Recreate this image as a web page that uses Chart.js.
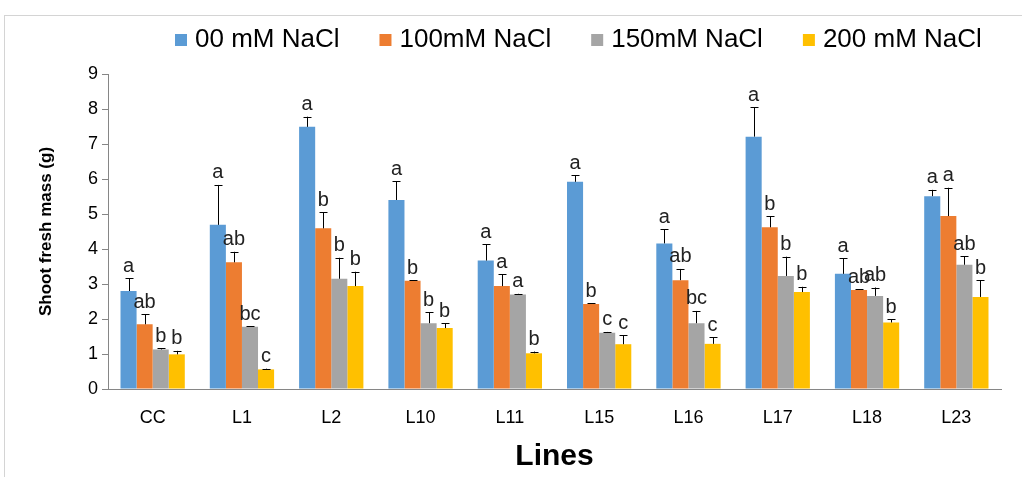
<!DOCTYPE html>
<html>
<head>
<meta charset="utf-8">
<script src="https://cdn.jsdelivr.net/npm/chart.js@4"></script>
<style>
body { margin: 0; background: #fff; }
#wrap { position: relative; width: 1022px; height: 477px; overflow: hidden; }
#frame { position: absolute; left: 4px; top: 15px; width: 1040px; height: 520px; border: 1px solid #d4d4d4; }
canvas { position: absolute; left: 0; top: 0; }
</style>
</head>
<body>
<div id="wrap"><div id="frame"></div><canvas id="chart" width="1022" height="477"></canvas></div>
<script>
var lines = ["CC", "L1", "L2", "L10", "L11", "L15", "L16", "L17", "L18", "L23"];
var seriesNames = ["00 mM NaCl", "100mM NaCl", "150mM NaCl", "200 mM NaCl"];
var colors = ["#5B9BD5", "#ED7D31", "#A5A5A5", "#FFC000"];

// mean shoot fresh mass (g)
var nacl0   = [2.80, 4.69, 7.49, 5.40, 3.67, 5.92, 4.16, 7.21, 3.29, 5.51];
var nacl100 = [1.85, 3.62, 4.59, 3.09, 2.94, 2.43, 3.11, 4.62, 2.83, 4.94];
var nacl150 = [1.13, 1.78, 3.15, 1.88, 2.70, 1.61, 1.88, 3.23, 2.66, 3.55];
var nacl200 = [0.99, 0.56, 2.94, 1.74, 1.02, 1.28, 1.29, 2.77, 1.90, 2.63];

// error bar (upper) lengths
var err0   = [0.36, 1.14, 0.29, 0.54, 0.47, 0.19, 0.40, 0.84, 0.44, 0.18];
var err100 = [0.28, 0.30, 0.46, 0.02, 0.34, 0.02, 0.32, 0.32, 0.02, 0.81];
var err150 = [0.03, 0.02, 0.60, 0.31, 0.02, 0.02, 0.35, 0.55, 0.24, 0.25];
var err200 = [0.10, 0.02, 0.41, 0.14, 0.05, 0.25, 0.19, 0.15, 0.09, 0.48];

// significance letters
var let0   = ["a", "a", "a", "a", "a", "a", "a", "a", "a", "a"];
var let100 = ["ab", "ab", "b", "b", "a", "b", "ab", "b", "ab", "a"];
var let150 = ["b", "bc", "b", "b", "a", "c", "bc", "b", "ab", "ab"];
var let200 = ["b", "c", "b", "b", "b", "c", "c", "b", "b", "b"];

var yMin = 0, yMax = 9, yStep = 1;

var values = [nacl0, nacl100, nacl150, nacl200];
var errors = [err0, err100, err150, err200];
var letters = [let0, let100, let150, let200];
var font = "'Liberation Sans', Arial, sans-serif";

var errorBars = {
    id: "errorBars",
    afterDatasetsDraw: function(chart) {
        var ctx = chart.ctx;
        var y = chart.scales.y;
        ctx.save();
        ctx.strokeStyle = "#000";
        ctx.lineWidth = 1;
        ctx.fillStyle = "#222";
        ctx.font = "20px " + font;
        ctx.textAlign = "center";
        ctx.textBaseline = "bottom";
        chart.data.datasets.forEach(function(ds, i) {
            chart.getDatasetMeta(i).data.forEach(function(bar, j) {
                var top = y.getPixelForValue(values[i][j] + errors[i][j]);
                var x = Math.round(bar.x) + 0.5;
                ctx.beginPath();
                ctx.moveTo(x, bar.y);
                ctx.lineTo(x, top);
                ctx.moveTo(x - 4, Math.round(top) + 0.5);
                ctx.lineTo(x + 4, Math.round(top) + 0.5);
                ctx.stroke();
                ctx.fillText(letters[i][j], bar.x, top - 2);
            });
        });
        ctx.restore();
    }
};

var legendBar = {
    id: "legendBar",
    afterDraw: function(chart) {
        var ctx = chart.ctx;
        ctx.save();
        ctx.font = "26px " + font;
        ctx.textBaseline = "middle";
        ctx.fillStyle = "#000";
        var x = 175, cy = 40;
        chart.data.datasets.forEach(function(ds) {
            ctx.fillStyle = ds.backgroundColor;
            ctx.fillRect(x, cy - 6, 12, 12);
            ctx.fillStyle = "#000";
            ctx.fillText(ds.label, x + 20, cy);
            x += 20 + ctx.measureText(ds.label).width + 40;
        });
        ctx.restore();
    }
};

var chart = new Chart(document.getElementById("chart"), {
    type: "bar",
    data: {
        labels: lines,
        datasets: values.map(function(v, i) {
            return {
                label: seriesNames[i],
                data: v,
                backgroundColor: colors[i],
                borderWidth: 0,
                categoryPercentage: 0.72,
                barPercentage: 1.0
            };
        })
    },
    options: {
        responsive: false,
        animation: false,
        devicePixelRatio: 1,
        layout: { padding: { left: 36, right: 21, top: 74, bottom: 0 } },
        plugins: {
            legend: { display: false },
            tooltip: { enabled: false }
        },
        scales: {
            x: {
                grid: { display: true, drawOnChartArea: false, drawTicks: false },
                border: { color: "#868686", width: 1 },
                ticks: { color: "#000", padding: 18, font: { family: font, size: 18 } },
                title: { display: true, text: "Lines", color: "#000", padding: { top: 0, bottom: 2 }, font: { family: font, size: 30, weight: "bold" } },
                afterFit: function(scale) { scale.height = 88; }
            },
            y: {
                min: yMin,
                max: yMax,
                ticks: { stepSize: yStep, color: "#000", padding: 4, font: { family: font, size: 18 } },
                grid: { display: true, drawOnChartArea: false, drawTicks: true, tickLength: 6, color: "#868686" },
                border: { color: "#868686", width: 1 },
                title: { display: true, text: "Shoot fresh mass (g)", color: "#000", padding: 0, font: { family: font, size: 17, weight: "bold" } },
                afterFit: function(scale) { scale.width = 72; }
            }
        }
    },
    plugins: [errorBars, legendBar]
});
</script>
</body>
</html>
